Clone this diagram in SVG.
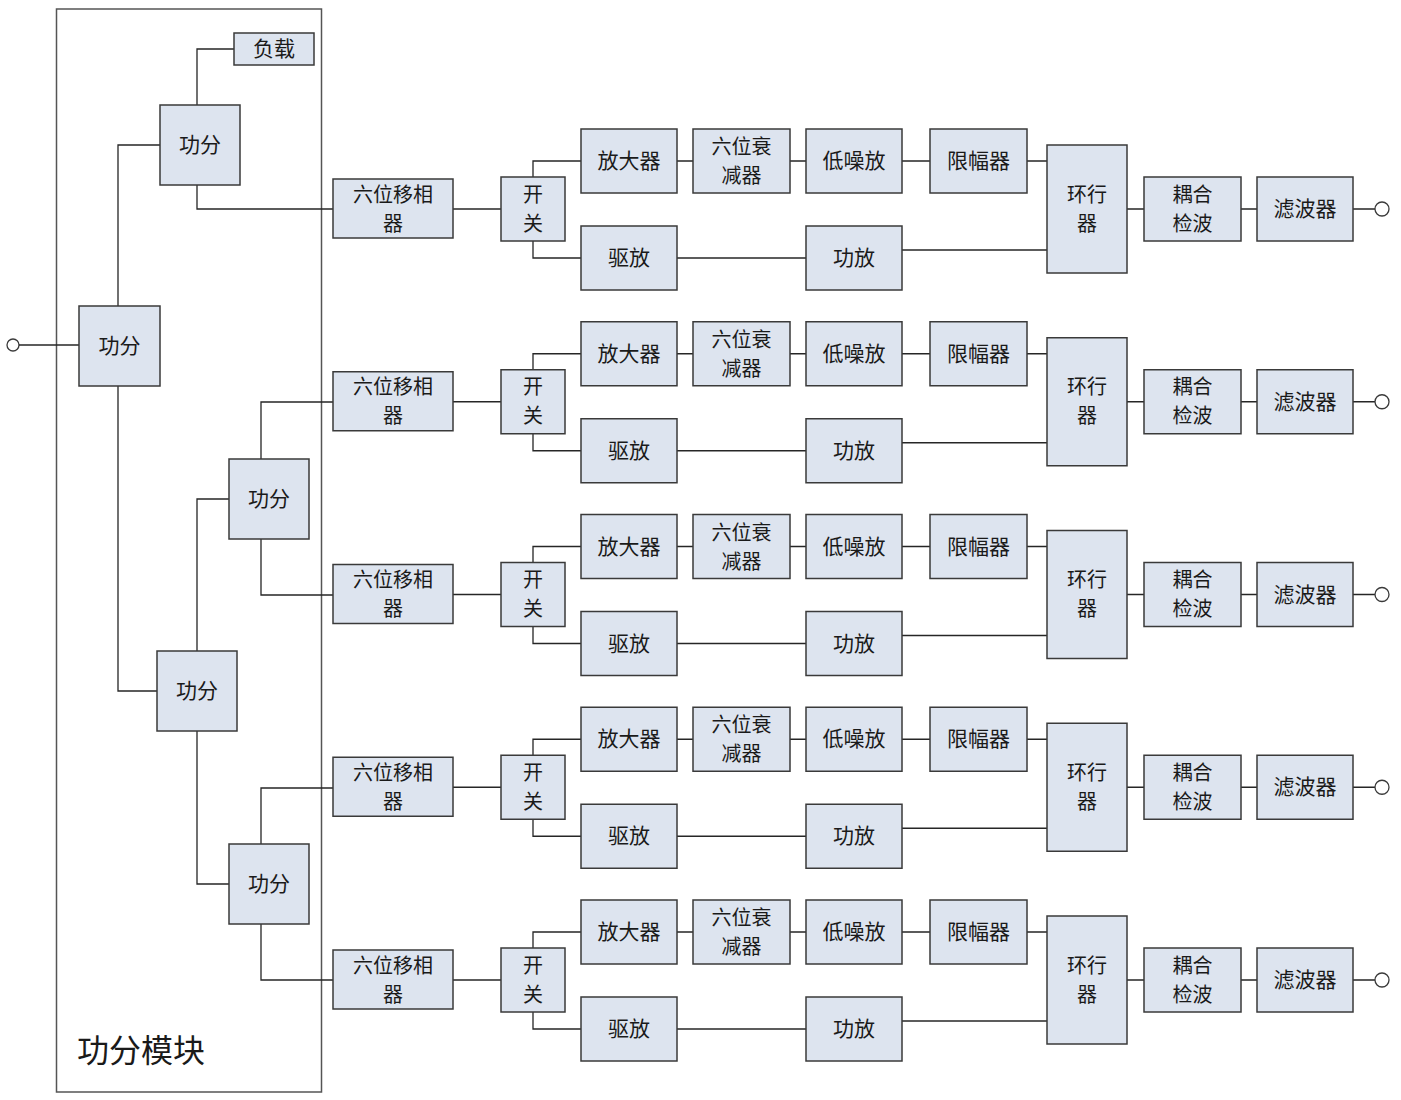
<svg xmlns="http://www.w3.org/2000/svg" xmlns:xlink="http://www.w3.org/1999/xlink" width="1401" height="1100" viewBox="0 0 1401 1100">
<style>
.n{fill:#dde4ef;stroke:#3a3a3a;stroke-width:1.5}
.t{font-family:"Noto Sans CJK SC","Noto Sans CJK JP",sans-serif;font-size:21px;fill:#1a1a1a;text-anchor:middle;dominant-baseline:central}
.t2{font-size:20px}
.c{fill:none;stroke:#262626;stroke-width:1.3}
.p{fill:#fff;stroke:#3a3a3a;stroke-width:1.3}
</style>
<rect x="0" y="0" width="1401" height="1100" fill="#fff"/>
<g id="module">
<rect x="56.5" y="9" width="265" height="1083" fill="none" stroke="#555" stroke-width="1.5"/>
<text x="141" y="1048" class="t" style="font-size:32px">功分模块</text>
</g>
<g id="connectors">
<circle class="p" cx="13" cy="345" r="6"/>
<path class="c" d="M19 345H79"/>
<path class="c" d="M118 306V145H160"/>
<path class="c" d="M197 105V49H234"/>
<path class="c" d="M197 185V209H333"/>
<path class="c" d="M118 386V691H157"/>
<path class="c" d="M197 651V499H229"/>
<path class="c" d="M197 731V884H229"/>
<path class="c" d="M261 459V402H333"/>
<path class="c" d="M261 539V595H333"/>
<path class="c" d="M261 844V788H333"/>
<path class="c" d="M261 924V980H333"/>
<g id="rowconn">
<path class="c" d="M453 209H501"/>
<path class="c" d="M533 177V161H581"/>
<path class="c" d="M533 241V258H581"/>
<path class="c" d="M677 161H693M790 161H806M902 161H930M1027 161H1047"/>
<path class="c" d="M677 258H806"/>
<path class="c" d="M902 250H1047"/>
<path class="c" d="M1127 209H1144M1241 209H1257M1353 209H1375"/>
<circle class="p" cx="1382" cy="209" r="7"/>
</g>
<use xlink:href="#rowconn" href="#rowconn" transform="translate(0,192.75)"/>
<use xlink:href="#rowconn" href="#rowconn" transform="translate(0,385.5)"/>
<use xlink:href="#rowconn" href="#rowconn" transform="translate(0,578.25)"/>
<use xlink:href="#rowconn" href="#rowconn" transform="translate(0,771)"/>
</g>
<g id="splitters">
<g id="load"><rect class="n" x="234" y="33" width="80" height="32"/><text class="t" x="274" y="47">负载</text></g>
<g id="pd-top"><rect class="n" x="160" y="105" width="80" height="80"/><text class="t" x="200" y="143">功分</text></g>
<g id="pd-main"><rect class="n" x="79" y="306" width="81" height="80"/><text class="t" x="119.5" y="344">功分</text></g>
<g id="pd-mid"><rect class="n" x="229" y="459" width="80" height="80"/><text class="t" x="269" y="497">功分</text></g>
<g id="pd-low"><rect class="n" x="157" y="651" width="80" height="80"/><text class="t" x="197" y="689">功分</text></g>
<g id="pd-bot"><rect class="n" x="229" y="844" width="80" height="80"/><text class="t" x="269" y="882">功分</text></g>
</g>
<g id="row1">
<g id="ps1"><rect class="n" x="333" y="179" width="120" height="59"/><text class="t t2" x="393" y="193">六位移相</text><text class="t t2" x="393" y="222">器</text></g>
<g id="sw1"><rect class="n" x="501" y="177" width="64" height="64"/><text class="t t2" x="533" y="193">开</text><text class="t t2" x="533" y="222">关</text></g>
<g id="amp1"><rect class="n" x="581" y="129" width="96" height="64"/><text class="t" x="629" y="159">放大器</text></g>
<g id="att1"><rect class="n" x="693" y="129" width="97" height="64"/><text class="t t2" x="741.5" y="145.5">六位衰</text><text class="t t2" x="741.5" y="174.5">减器</text></g>
<g id="lna1"><rect class="n" x="806" y="129" width="96" height="64"/><text class="t" x="854" y="159">低噪放</text></g>
<g id="lim1"><rect class="n" x="930" y="129" width="97" height="64"/><text class="t" x="978.5" y="159">限幅器</text></g>
<g id="drv1"><rect class="n" x="581" y="226" width="96" height="64"/><text class="t" x="629" y="256">驱放</text></g>
<g id="pa1"><rect class="n" x="806" y="226" width="96" height="64"/><text class="t" x="854" y="256">功放</text></g>
<g id="circ1"><rect class="n" x="1047" y="145" width="80" height="128"/><text class="t t2" x="1087" y="193">环行</text><text class="t t2" x="1087" y="222">器</text></g>
<g id="cpl1"><rect class="n" x="1144" y="177" width="97" height="64"/><text class="t t2" x="1192.5" y="193">耦合</text><text class="t t2" x="1192.5" y="222">检波</text></g>
<g id="flt1"><rect class="n" x="1257" y="177" width="96" height="64"/><text class="t" x="1305" y="207">滤波器</text></g>
</g>
<g id="row2" transform="translate(0,192.75)">
<g id="ps2"><rect class="n" x="333" y="179" width="120" height="59"/><text class="t t2" x="393" y="193">六位移相</text><text class="t t2" x="393" y="222">器</text></g>
<g id="sw2"><rect class="n" x="501" y="177" width="64" height="64"/><text class="t t2" x="533" y="193">开</text><text class="t t2" x="533" y="222">关</text></g>
<g id="amp2"><rect class="n" x="581" y="129" width="96" height="64"/><text class="t" x="629" y="159">放大器</text></g>
<g id="att2"><rect class="n" x="693" y="129" width="97" height="64"/><text class="t t2" x="741.5" y="145.5">六位衰</text><text class="t t2" x="741.5" y="174.5">减器</text></g>
<g id="lna2"><rect class="n" x="806" y="129" width="96" height="64"/><text class="t" x="854" y="159">低噪放</text></g>
<g id="lim2"><rect class="n" x="930" y="129" width="97" height="64"/><text class="t" x="978.5" y="159">限幅器</text></g>
<g id="drv2"><rect class="n" x="581" y="226" width="96" height="64"/><text class="t" x="629" y="256">驱放</text></g>
<g id="pa2"><rect class="n" x="806" y="226" width="96" height="64"/><text class="t" x="854" y="256">功放</text></g>
<g id="circ2"><rect class="n" x="1047" y="145" width="80" height="128"/><text class="t t2" x="1087" y="193">环行</text><text class="t t2" x="1087" y="222">器</text></g>
<g id="cpl2"><rect class="n" x="1144" y="177" width="97" height="64"/><text class="t t2" x="1192.5" y="193">耦合</text><text class="t t2" x="1192.5" y="222">检波</text></g>
<g id="flt2"><rect class="n" x="1257" y="177" width="96" height="64"/><text class="t" x="1305" y="207">滤波器</text></g>
</g>
<g id="row3" transform="translate(0,385.5)">
<g id="ps3"><rect class="n" x="333" y="179" width="120" height="59"/><text class="t t2" x="393" y="193">六位移相</text><text class="t t2" x="393" y="222">器</text></g>
<g id="sw3"><rect class="n" x="501" y="177" width="64" height="64"/><text class="t t2" x="533" y="193">开</text><text class="t t2" x="533" y="222">关</text></g>
<g id="amp3"><rect class="n" x="581" y="129" width="96" height="64"/><text class="t" x="629" y="159">放大器</text></g>
<g id="att3"><rect class="n" x="693" y="129" width="97" height="64"/><text class="t t2" x="741.5" y="145.5">六位衰</text><text class="t t2" x="741.5" y="174.5">减器</text></g>
<g id="lna3"><rect class="n" x="806" y="129" width="96" height="64"/><text class="t" x="854" y="159">低噪放</text></g>
<g id="lim3"><rect class="n" x="930" y="129" width="97" height="64"/><text class="t" x="978.5" y="159">限幅器</text></g>
<g id="drv3"><rect class="n" x="581" y="226" width="96" height="64"/><text class="t" x="629" y="256">驱放</text></g>
<g id="pa3"><rect class="n" x="806" y="226" width="96" height="64"/><text class="t" x="854" y="256">功放</text></g>
<g id="circ3"><rect class="n" x="1047" y="145" width="80" height="128"/><text class="t t2" x="1087" y="193">环行</text><text class="t t2" x="1087" y="222">器</text></g>
<g id="cpl3"><rect class="n" x="1144" y="177" width="97" height="64"/><text class="t t2" x="1192.5" y="193">耦合</text><text class="t t2" x="1192.5" y="222">检波</text></g>
<g id="flt3"><rect class="n" x="1257" y="177" width="96" height="64"/><text class="t" x="1305" y="207">滤波器</text></g>
</g>
<g id="row4" transform="translate(0,578.25)">
<g id="ps4"><rect class="n" x="333" y="179" width="120" height="59"/><text class="t t2" x="393" y="193">六位移相</text><text class="t t2" x="393" y="222">器</text></g>
<g id="sw4"><rect class="n" x="501" y="177" width="64" height="64"/><text class="t t2" x="533" y="193">开</text><text class="t t2" x="533" y="222">关</text></g>
<g id="amp4"><rect class="n" x="581" y="129" width="96" height="64"/><text class="t" x="629" y="159">放大器</text></g>
<g id="att4"><rect class="n" x="693" y="129" width="97" height="64"/><text class="t t2" x="741.5" y="145.5">六位衰</text><text class="t t2" x="741.5" y="174.5">减器</text></g>
<g id="lna4"><rect class="n" x="806" y="129" width="96" height="64"/><text class="t" x="854" y="159">低噪放</text></g>
<g id="lim4"><rect class="n" x="930" y="129" width="97" height="64"/><text class="t" x="978.5" y="159">限幅器</text></g>
<g id="drv4"><rect class="n" x="581" y="226" width="96" height="64"/><text class="t" x="629" y="256">驱放</text></g>
<g id="pa4"><rect class="n" x="806" y="226" width="96" height="64"/><text class="t" x="854" y="256">功放</text></g>
<g id="circ4"><rect class="n" x="1047" y="145" width="80" height="128"/><text class="t t2" x="1087" y="193">环行</text><text class="t t2" x="1087" y="222">器</text></g>
<g id="cpl4"><rect class="n" x="1144" y="177" width="97" height="64"/><text class="t t2" x="1192.5" y="193">耦合</text><text class="t t2" x="1192.5" y="222">检波</text></g>
<g id="flt4"><rect class="n" x="1257" y="177" width="96" height="64"/><text class="t" x="1305" y="207">滤波器</text></g>
</g>
<g id="row5" transform="translate(0,771)">
<g id="ps5"><rect class="n" x="333" y="179" width="120" height="59"/><text class="t t2" x="393" y="193">六位移相</text><text class="t t2" x="393" y="222">器</text></g>
<g id="sw5"><rect class="n" x="501" y="177" width="64" height="64"/><text class="t t2" x="533" y="193">开</text><text class="t t2" x="533" y="222">关</text></g>
<g id="amp5"><rect class="n" x="581" y="129" width="96" height="64"/><text class="t" x="629" y="159">放大器</text></g>
<g id="att5"><rect class="n" x="693" y="129" width="97" height="64"/><text class="t t2" x="741.5" y="145.5">六位衰</text><text class="t t2" x="741.5" y="174.5">减器</text></g>
<g id="lna5"><rect class="n" x="806" y="129" width="96" height="64"/><text class="t" x="854" y="159">低噪放</text></g>
<g id="lim5"><rect class="n" x="930" y="129" width="97" height="64"/><text class="t" x="978.5" y="159">限幅器</text></g>
<g id="drv5"><rect class="n" x="581" y="226" width="96" height="64"/><text class="t" x="629" y="256">驱放</text></g>
<g id="pa5"><rect class="n" x="806" y="226" width="96" height="64"/><text class="t" x="854" y="256">功放</text></g>
<g id="circ5"><rect class="n" x="1047" y="145" width="80" height="128"/><text class="t t2" x="1087" y="193">环行</text><text class="t t2" x="1087" y="222">器</text></g>
<g id="cpl5"><rect class="n" x="1144" y="177" width="97" height="64"/><text class="t t2" x="1192.5" y="193">耦合</text><text class="t t2" x="1192.5" y="222">检波</text></g>
<g id="flt5"><rect class="n" x="1257" y="177" width="96" height="64"/><text class="t" x="1305" y="207">滤波器</text></g>
</g>
</svg>
